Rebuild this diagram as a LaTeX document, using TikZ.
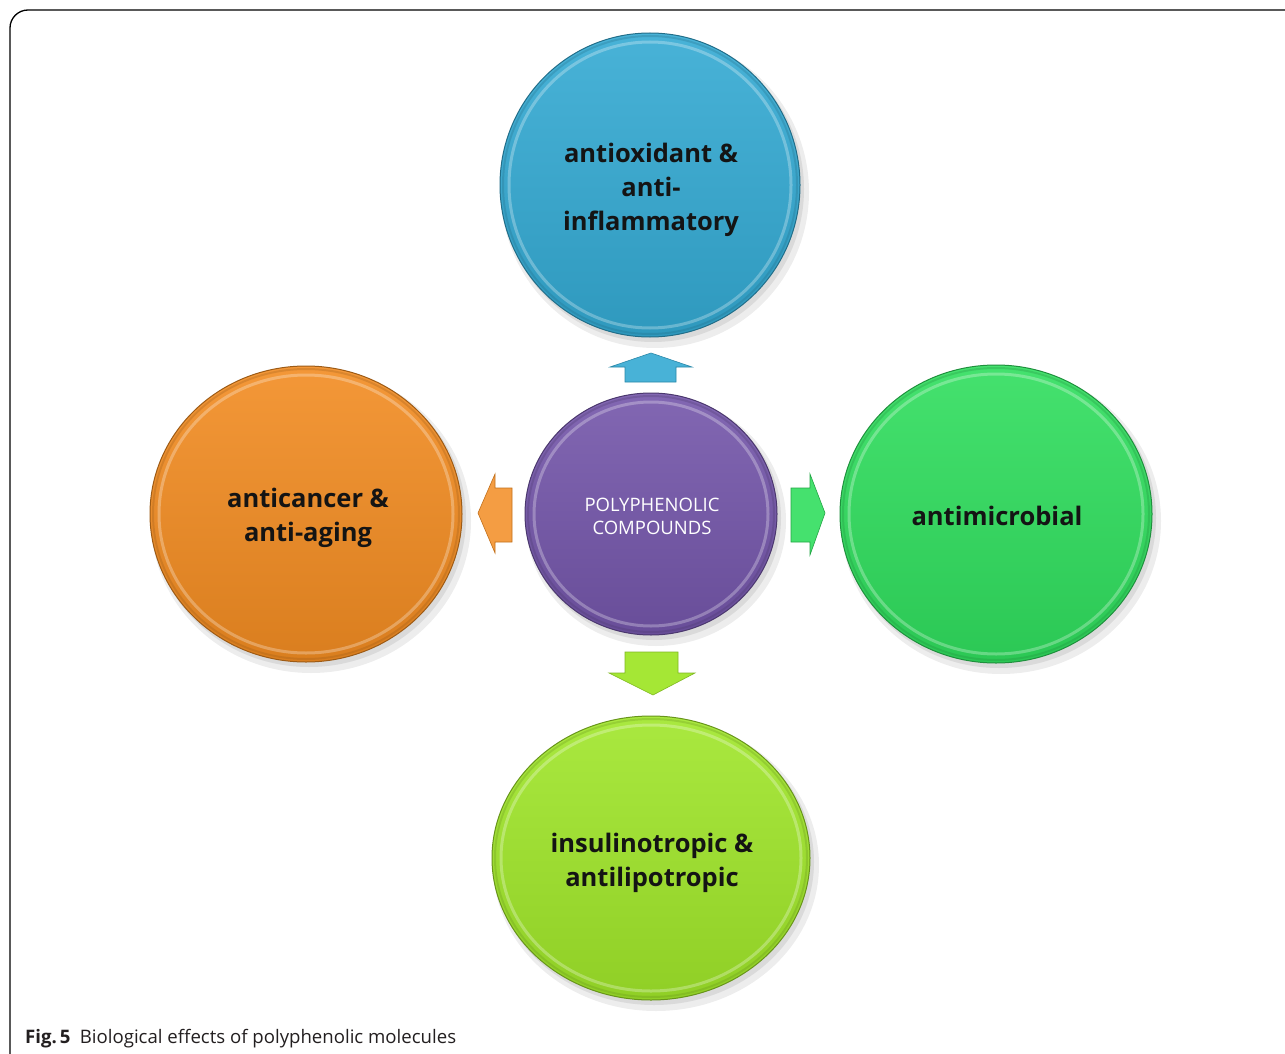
\documentclass[tikz,border=0pt]{standalone}
\usepackage{fontspec}
\setmainfont{Open Sans}
\usetikzlibrary{shapes.geometric}
\definecolor{cblue}{HTML}{34AAD3}
\definecolor{corange}{HTML}{F28C22}
\definecolor{cgreen}{HTML}{30DE5E}
\definecolor{clime}{HTML}{A0E62A}
\definecolor{cpurple}{HTML}{7456AA}
\definecolor{ctext}{HTML}{141414}
\definecolor{ccap}{HTML}{231F20}
\tikzset{
  bubbletext/.style={font=\bfseries\fontsize{25.5}{34}\selectfont, text=ctext, align=center},
  blockarrow/.style={line width=0.6pt},
}
\newcommand\bubble[7]{%
  \fill[black,opacity=.07] (#2+5,#3+7) ellipse ({#4+4} and {#5+4});
  \fill[black,opacity=.08] (#2+3,#3+4) ellipse ({#4+1} and {#5+1});
  \node[ellipse, inner sep=0pt, minimum width={2*#4 pt}, minimum height={2*#5 pt},
        top color=#6!90!white, bottom color=#6!90!black, draw=#6!65!black, line width=1pt] (#1) at (#2,#3) {};
  \draw[white,opacity=.28,line width=3pt] (#1.center) ellipse ({#4-9} and {#5-9});
  \draw[#6!60!black,opacity=.25,line width=2pt] (#1.center) ellipse ({#4-3} and {#5-3});
  #7
}
\begin{document}
\begin{tikzpicture}[x=1pt,y=-1pt]
\useasboundingbox (0,0) rectangle (1285,1054);
\fill[white] (0,0) rectangle (1285,1054);
\draw[line width=1.3pt, rounded corners=18pt] (10,1070) -- (10,10) -- (1300,10);

\bubble{top}{650}{185}{150}{152}{cblue}{%
  \node[bubbletext] (ttop) at (651,190) {antioxidant \&\\anti-\\inflammatory};}
\bubble{left}{306}{514}{156}{148}{corange}{%
  \node[bubbletext] (tleft) at (308,518) {anticancer \&\\anti-aging};}
\bubble{right}{996}{514}{156}{149}{cgreen}{%
  \node[bubbletext] (tright) at (997,516) {antimicrobial};}
\bubble{bottom}{651}{858}{159}{142}{clime}{%
  \node[bubbletext] (tbottom) at (652,863) {insulinotropic \&\\antilipotropic};}
\bubble{center}{651}{514}{126}{121}{cpurple}{%
  \node[font=\fontsize{18.5}{23}\selectfont, text=white, align=center] (tcenter) at (652,516) {POLYPHENOLIC\\COMPOUNDS};}

% block arrows
\fill[blockarrow, fill=cblue!90!white, draw=cblue!80!black]
  (610,367) -- (651,353) -- (692,367) -- (676,367) -- (676,382) -- (625,382) -- (625,367) -- cycle;
\fill[blockarrow, fill=corange!85!white, draw=corange!80!black]
  (478,513) -- (495,474) -- (495,488) -- (512,488) -- (512,542) -- (495,542) -- (495,553) -- cycle;
\fill[blockarrow, fill=cgreen!90!white, draw=cgreen!75!black]
  (825,513) -- (810,474) -- (810,488) -- (791,488) -- (791,542) -- (810,542) -- (810,555) -- cycle;
\fill[blockarrow, fill=clime!95!white, draw=clime!80!black]
  (625,652) -- (678,652) -- (678,673) -- (695,673) -- (653,695) -- (609,673) -- (625,673) -- cycle;

\node[anchor=base west, text=ccap, inner sep=0pt] (caption) at (25,1043)
  {\fontsize{18.6}{22}\selectfont\textbf{Fig.\,5}\hspace{0.5em}Biological effects of polyphenolic molecules};
\end{tikzpicture}
\end{document}
